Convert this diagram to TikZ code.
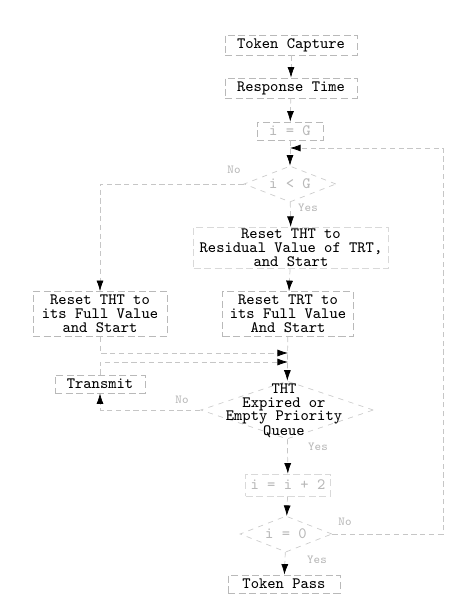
\documentclass[tikz,border=0pt]{standalone}
\usepackage{tikz}
\usetikzlibrary{shapes,arrows.meta}

\begin{document}
\begin{tikzpicture}[x=0.02cm,y=-0.02cm,
  font=\fontsize{9}{8}\selectfont\ttfamily,
  box/.style={draw=gray!55,dash pattern=on 4pt off 2pt,inner sep=1pt,align=center},
  dia/.style={diamond,draw=gray!40,dash pattern=on 3pt off 3pt,inner sep=0pt,aspect=2.5},
  faint/.style={text=gray!55},
  lbl/.style={text=gray!55,font=\fontsize{7}{7}\selectfont\ttfamily},
  arr/.style={draw=gray!45,dash pattern=on 3pt off 2pt,-{Latex[black,length=6pt,width=4pt]}}]
\useasboundingbox (0,0) rectangle (458,609);
% main column
\node[box,minimum width=2.64cm,minimum height=0.4cm] (cap) at (291,45) {Token Capture};
\node[box,minimum width=2.64cm,minimum height=0.4cm] (resp) at (291,88) {Response Time};
\node[box,faint,minimum width=1.32cm,minimum height=0.36cm] (ig) at (290,131) {i = G};
\node[dia,faint,minimum width=1.84cm,minimum height=0.72cm] (d1) at (290,184) {i < G};
\node[box,draw=gray!30,minimum width=3.9cm,minimum height=0.8cm] (resid) at (291,248) {Reset THT to\\Residual Value of TRT,\\and Start};
\node[box,minimum width=2.62cm,minimum height=0.9cm] (trt) at (288,314) {Reset TRT to\\its Full Value\\And Start};
\node[dia,minimum width=3.46cm,minimum height=1.16cm] (d2) at (287,410) {};
\node[align=center,inner sep=0pt,font=\fontsize{9}{7.5}\selectfont\ttfamily] (d2t) at (284,411) {THT\\Expired or\\Empty Priority\\Queue};
\node[box,faint,draw=gray!30,minimum width=1.7cm,minimum height=0.44cm] (inc) at (288,485) {i = i + 2};
\node[dia,faint,minimum width=1.84cm,minimum height=0.72cm] (d3) at (286,534) {i = 0};
\node[box,minimum width=2.24cm,minimum height=0.36cm] (pass) at (284,584) {Token Pass};
% left column
\node[box,minimum width=2.68cm,minimum height=0.9cm] (full) at (100,314) {Reset THT to\\its Full Value\\and Start};
\node[box,minimum width=1.8cm,minimum height=0.36cm] (trans) at (100,384) {Transmit};
% labels
\node[lbl] (no1) at (234,170) {No};
\node[lbl] (yes1) at (308,208) {Yes};
\node[lbl] (no2) at (182,400) {No};
\node[lbl] (yes2) at (318,447) {Yes};
\node[lbl] (no3) at (345,522) {No};
\node[lbl] (yes3) at (317,560) {Yes};
% junctions
\coordinate (j1) at (288,353);
\coordinate (j2) at (288,362);
\coordinate (rt) at (443,148);
\path
  (cap) edge[arr] (resp)
  (resp) edge[arr] (ig)
  (ig) edge[arr] (d1)
  (d1) edge[arr] (resid)
  (resid) edge[arr] (trt)
  (trt) edge[arr] (d2)
  (d2) edge[arr] (inc)
  (inc) edge[arr] (d3)
  (d3) edge[arr] (pass)
;
\draw[arr] (d1.west) -| (full.north);
\draw[arr] (full.south) |- (j1);
\draw[arr] (trans.north) |- (j2);
\draw[arr] (d2.west) -| (trans.south);
\draw[arr] (d3.east) -| (rt) -- (ig.south |- rt);
\end{tikzpicture}
\end{document}
